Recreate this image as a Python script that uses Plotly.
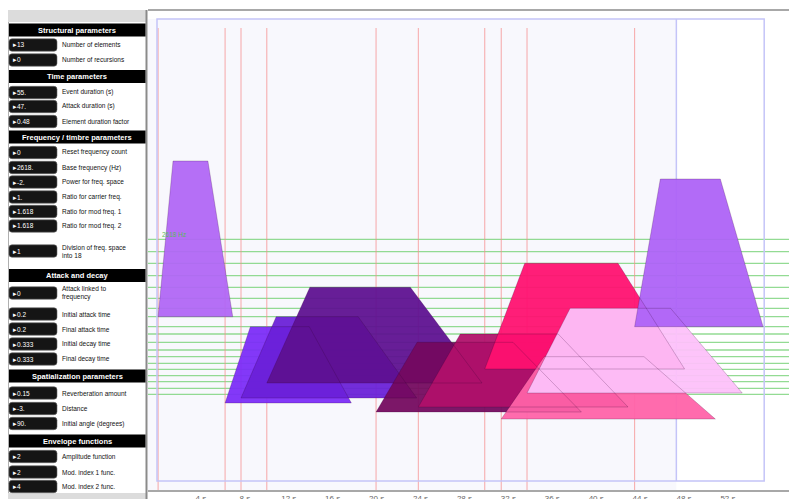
import plotly.graph_objects as go

# ---------------- data ----------------
# envelope elements (drawn in start-time order)
start_s = [0.1, 6.2, 7.65, 10.0, 19.95, 23.8, 29.85, 31.35, 33.7, 43.5]
duration_s = [6.8, 11.5, 16.0, 19.6, 18.7, 19.1, 18.2, 19.5, 19.6, 11.7]
base_level = [173.3, 87, 92, 107, 78, 83, 121, 71, 97, 163.3]
peak_level = [329, 163.3, 173.3, 202.7, 147.7, 156, 226.7, 133.3, 181.7, 311]
element_colors = ["#b066f5", "#7b2cf8", "#6a20d8", "#5e1090", "#74095f",
                  "#b0106a", "#ff1070", "#ff62a8", "#fdc0fa", "#ad62f6"]
attack_fraction = 0.2
decay_fraction = 0.333

# frequency grid lines (vertical position units)
freq_lines = [250.7, 238.3, 226.7, 214.3, 202.7, 191.7, 181.7, 173.3, 163.3, 156,
              147.7, 140, 133.3, 126.7, 120.7, 114.3, 108.3, 101.7, 95.7]
base_freq_label = "2618 Hz"

event_duration = 55.3
attack_duration = 47.3

tick_seconds = [4, 8, 12, 16, 20, 24, 28, 32, 36, 40, 44, 48, 52]
tick_labels = ["4 s", "8 s", "12 s", "16 s", "20 s", "24 s", "28 s", "32 s",
               "36 s", "40 s", "44 s", "48 s", "52 s"]

# parameter panel: sections with (value, label)
panel_sections = [
    ("Structural parameters", [("13", "Number of elements"), ("0", "Number of recursions")]),
    ("Time parameters", [("55.", "Event duration (s)"), ("47.", "Attack duration (s)"),
                         ("0.48", "Element duration factor")]),
    ("Frequency / timbre parameters", [("0", "Reset frequency count"), ("2618.", "Base frequency (Hz)"),
                                       ("-2.", "Power for freq. space"), ("1.", "Ratio for carrier freq."),
                                       ("1.618", "Ratio for mod freq. 1"), ("1.618", "Ratio for mod freq. 2"),
                                       ("1", "Division of freq. space<br>into 18")]),
    ("Attack and decay", [("0", "Attack linked to<br>frequency"), ("0.2", "Initial attack time"),
                          ("0.2", "Final attack time"), ("0.333", "Initial decay time"),
                          ("0.333", "Final decay time")]),
    ("Spatialization parameters", [("0.15", "Reverberation amount"), ("-3.", "Distance"),
                                   ("90.", "Initial angle (degrees)")]),
    ("Envelope functions", [("2", "Amplitude function"), ("2", "Mod. index 1 func."),
                            ("4", "Mod. index 2 func.")]),
]
# vertical centres (window px) of panel items, in order (header, rows...)
panel_item_y = [30, 45, 60,
                76.5, 92.5, 106.5, 121.5,
                137, 152.5, 167.5, 182, 197, 211.5, 226, 251,
                275.5, 293, 314, 329, 344, 359,
                376, 393, 408.5, 423.5,
                441, 456.5, 472, 486.5]

# ---------------- geometry (window pixels) ----------------
OFF = 8                      # page body margin
WIN_W, WIN_H = 797, 499
W, H = WIN_W - OFF, WIN_H - OFF
PL, PR, PT, PB = 148, 797, 11, 490   # plot area in window px
PX_PER_S = 10.98
X0_PX = 157
x_range = [(PL - X0_PX) / PX_PER_S, (PR - X0_PX) / PX_PER_S]
y_range = [0, PB - PT]


def px(xp):
    return (xp - PL) / (PR - PL)


def py(yp):
    return (PB - yp) / (PB - PT)


def hex_rgba(h, a):
    h = h.lstrip("#")
    r, g, b = int(h[0:2], 16), int(h[2:4], 16), int(h[4:6], 16)
    return f"rgba({r},{g},{b},{a})"


def rounded(x0, y0, x1, y1, r):
    X = lambda v: f"{px(v):.5f}"
    Y = lambda v: f"{py(v):.5f}"
    return (f"M {X(x0 + r)},{Y(y0)} L {X(x1 - r)},{Y(y0)} Q {X(x1)},{Y(y0)} {X(x1)},{Y(y0 + r)} "
            f"L {X(x1)},{Y(y1 - r)} Q {X(x1)},{Y(y1)} {X(x1 - r)},{Y(y1)} "
            f"L {X(x0 + r)},{Y(y1)} Q {X(x0)},{Y(y1)} {X(x0)},{Y(y1 - r)} "
            f"L {X(x0)},{Y(y0 + r)} Q {X(x0)},{Y(y0)} {X(x0 + r)},{Y(y0)} Z")


fig = go.Figure()

polys = []
for s, d, b, p in zip(start_s, duration_s, base_level, peak_level):
    xs = [s, s + attack_fraction * d, s + d - decay_fraction * d, s + d, s]
    ys = [b, p, p, b, b]
    polys.append((xs, ys))

for (xs, ys), c in zip(polys, element_colors):
    fig.add_trace(go.Scatter(x=xs, y=ys, mode="lines", fill="toself",
                             fillcolor=hex_rgba(c, 0.94), line=dict(width=0),
                             hoverinfo="skip", showlegend=False))
for xs, ys in polys:
    fig.add_trace(go.Scatter(x=xs, y=ys, mode="lines",
                             line=dict(color="rgba(50,0,50,0.28)", width=0.8),
                             hoverinfo="skip", showlegend=False))

shapes = []
shapes.append(dict(type="rect", xref="x", yref="y", x0=x_range[0], x1=attack_duration,
                   y0=0, y1=PB - 19, fillcolor="#f8f8fd", line=dict(width=0), layer="below"))
for f in freq_lines:
    shapes.append(dict(type="line", xref="x", yref="y", x0=x_range[0], x1=x_range[1], y0=f, y1=f,
                       line=dict(color="rgba(120,210,120,0.8)", width=1.3), layer="below"))
for s in start_s:
    shapes.append(dict(type="line", xref="x", yref="y", x0=s, x1=s, y0=0, y1=PB - 28,
                       line=dict(color="rgba(245,140,140,0.75)", width=1), layer="below"))
shapes.append(dict(type="rect", xref="x", yref="y", x0=0, x1=event_duration, y0=PB - 481, y1=PB - 19,
                   line=dict(color="#c4c4f8", width=1.5), layer="below"))
shapes.append(dict(type="line", xref="x", yref="y", x0=attack_duration, x1=attack_duration,
                   y0=PB - 481, y1=PB - 19, line=dict(color="#c4c4f8", width=1.5), layer="below"))

# ---------------- panel ----------------
annotations = []
shapes.append(dict(type="rect", xref="paper", yref="paper", x0=px(7), x1=px(147), y0=py(22), y1=py(10),
                   fillcolor="#dcdcdc", line=dict(width=0)))
shapes.append(dict(type="rect", xref="paper", yref="paper", x0=px(7), x1=px(147), y0=py(499), y1=py(493),
                   fillcolor="#dcdcdc", line=dict(width=0)))
shapes.append(dict(type="line", xref="paper", yref="paper", x0=px(8.5), x1=px(8.5), y0=py(493), y1=py(22),
                   line=dict(color="#b0b0b0", width=1)))
shapes.append(dict(type="line", xref="paper", yref="paper", x0=px(146.5), x1=px(146.5), y0=py(499), y1=py(10),
                   line=dict(color="#8a8a8a", width=2)))

idx = 0
for title, rows in panel_sections:
    yc = panel_item_y[idx]
    idx += 1
    shapes.append(dict(type="rect", xref="paper", yref="paper", x0=px(9), x1=px(145.5),
                       y0=py(yc + 6.5), y1=py(yc - 6.5), fillcolor="#000000", line=dict(width=0)))
    annotations.append(dict(x=px(77), y=py(yc), xref="paper", yref="paper", text=f"<b>{title}</b>",
                            showarrow=False, xanchor="center", yanchor="middle",
                            font=dict(color="white", size=7.5, family="Liberation Sans")))
    for val, lab in rows:
        yc = panel_item_y[idx]
        idx += 1
        shapes.append(dict(type="path", xref="paper", yref="paper",
                           path=rounded(9, yc - 6.2, 57, yc + 6.2, 3),
                           fillcolor="#151515", line=dict(color="#666", width=0.6)))
        annotations.append(dict(x=px(11), y=py(yc), xref="paper", yref="paper", text=f"▸{val}",
                                showarrow=False, xanchor="left", yanchor="middle",
                                font=dict(color="white", size=6.5, family="Liberation Sans")))
        annotations.append(dict(x=px(60), y=py(yc), xref="paper", yref="paper", text=lab,
                                showarrow=False, xanchor="left", yanchor="middle", align="left",
                                font=dict(color="#111", size=6.5, family="Liberation Sans")))

annotations.append(dict(x=0.25, y=freq_lines[0], xref="x", yref="y", text=base_freq_label,
                        showarrow=False, xanchor="left", yanchor="bottom", yshift=-1,
                        font=dict(color="#5cb85c", size=6.5, family="Liberation Sans")))

fig.update_layout(
    width=W, height=H,
    margin=dict(l=PL - OFF, r=WIN_W - PR, t=PT - OFF, b=WIN_H - PB, autoexpand=False),
    paper_bgcolor="white", plot_bgcolor="white",
    shapes=shapes, annotations=annotations,
    showlegend=False,
    xaxis=dict(range=x_range, tickvals=tick_seconds, ticktext=tick_labels,
               showgrid=False, zeroline=False, showline=True, mirror=True,
               linecolor="#a8a8a8", linewidth=1.5, ticks="", automargin=False,
               ticklabelstandoff=0,
               tickfont=dict(size=8, color="#666", family="Liberation Sans")),
    yaxis=dict(range=y_range, showticklabels=False, showgrid=False, zeroline=False,
               showline=False, ticks="", automargin=False),
    font=dict(family="Liberation Sans"),
)

fig.write_html("out.html")
